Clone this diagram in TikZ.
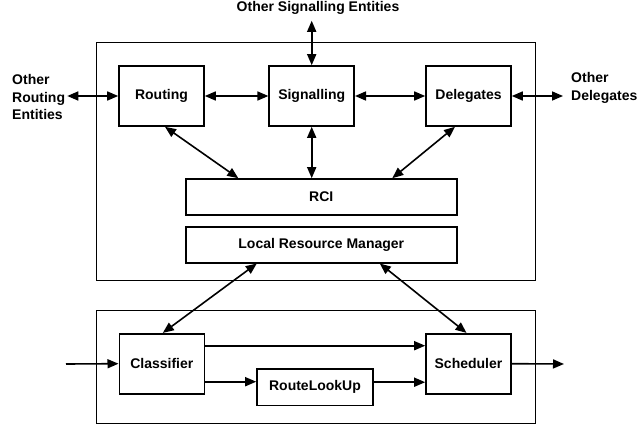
\documentclass[tikz,border=0pt]{standalone}
\usepackage{fontspec}
\setmainfont{Liberation Sans}
\usetikzlibrary{arrows.meta,positioning}

\begin{document}
\begin{tikzpicture}[x=1pt,y=-1pt,>={Triangle[length=11pt,width=9pt]},
	font=\fontsize{14}{17.5}\selectfont\bfseries,
	block/.style={draw,line width=1.6pt,minimum width=85pt,minimum height=60pt,inner sep=0pt},
	bar/.style={draw,line width=1.6pt,minimum width=271pt,minimum height=36pt,inner sep=0pt},
	area/.style={draw,line width=0.8pt},
	ext/.style={inner sep=2pt,align=left},
	link/.style={line width=1.6pt}]

\useasboundingbox (0,0) rectangle (637,425);

\draw[area] (96,42) rectangle (535,280);
\draw[area] (96,310) rectangle (535,423);

\node[block]	(routing)	at (161.5,96)	{Routing};
\node[block]	(signalling)	at (311.7,96)	{Signalling};
\node[block]	(delegates)	at (468.5,96)	{Delegates};
\node[bar]	(rci)	at (321.3,197)	{RCI};
\node[bar]	(lrm)	at (321.3,244.7)	{Local Resource Manager};
\node[block]	(classifier)	at (161.8,363.7)	{Classifier};
\node[block]	(scheduler)	at (468.5,363.7)	{Scheduler};
\node[block,minimum width=116pt,minimum height=36.5pt]	(lookup)	at (315,387.2)	{RouteLookUp};

\node[ext,inner ysep=6pt]	(othersig)	at (318,8)	{Other Signalling Entities};
\node[ext,anchor=west]	(otherrout)	at (10,97)	{Other\\Routing\\Entities};
\node[ext,anchor=west,inner xsep=8pt]	(otherdel)	at (563,88)	{Other\\Delegates};

\coordinate (in)	at (66,364);
\coordinate (out)	at (564,364);

\path[<->,link] (otherrout.east |- routing.west)	edge	(routing.west)
(routing.east)	edge	(signalling.west)
(signalling.east)	edge	(delegates.east -| delegates.west)
(delegates.east)	edge	(delegates.east -| otherdel.west)
(signalling.north)	edge	(signalling.north |- othersig.south)
([xshift=3.5pt]routing.south)	edge	([xshift=-83pt]rci.north)
(signalling.south)	edge	(signalling.south |- rci.north)
([xshift=-13.5pt]delegates.south)	edge	([xshift=71pt]rci.north)
([xshift=-64.5pt]lrm.south)	edge	([xshift=1pt]classifier.north)
([xshift=58.5pt]lrm.south)	edge	([xshift=-2pt]scheduler.north);

\path[->,link] (in)	edge	(classifier.west)
(scheduler.east)	edge	(out)
([yshift=18pt]classifier.east)	edge	([yshift=18pt]classifier.east -| scheduler.west)
([yshift=-18pt]classifier.east)	edge	([yshift=-18pt]classifier.east -| lookup.west)
([yshift=5pt]lookup.east)	edge	([yshift=5pt]lookup.east -| scheduler.west);

\end{tikzpicture}
\end{document}
